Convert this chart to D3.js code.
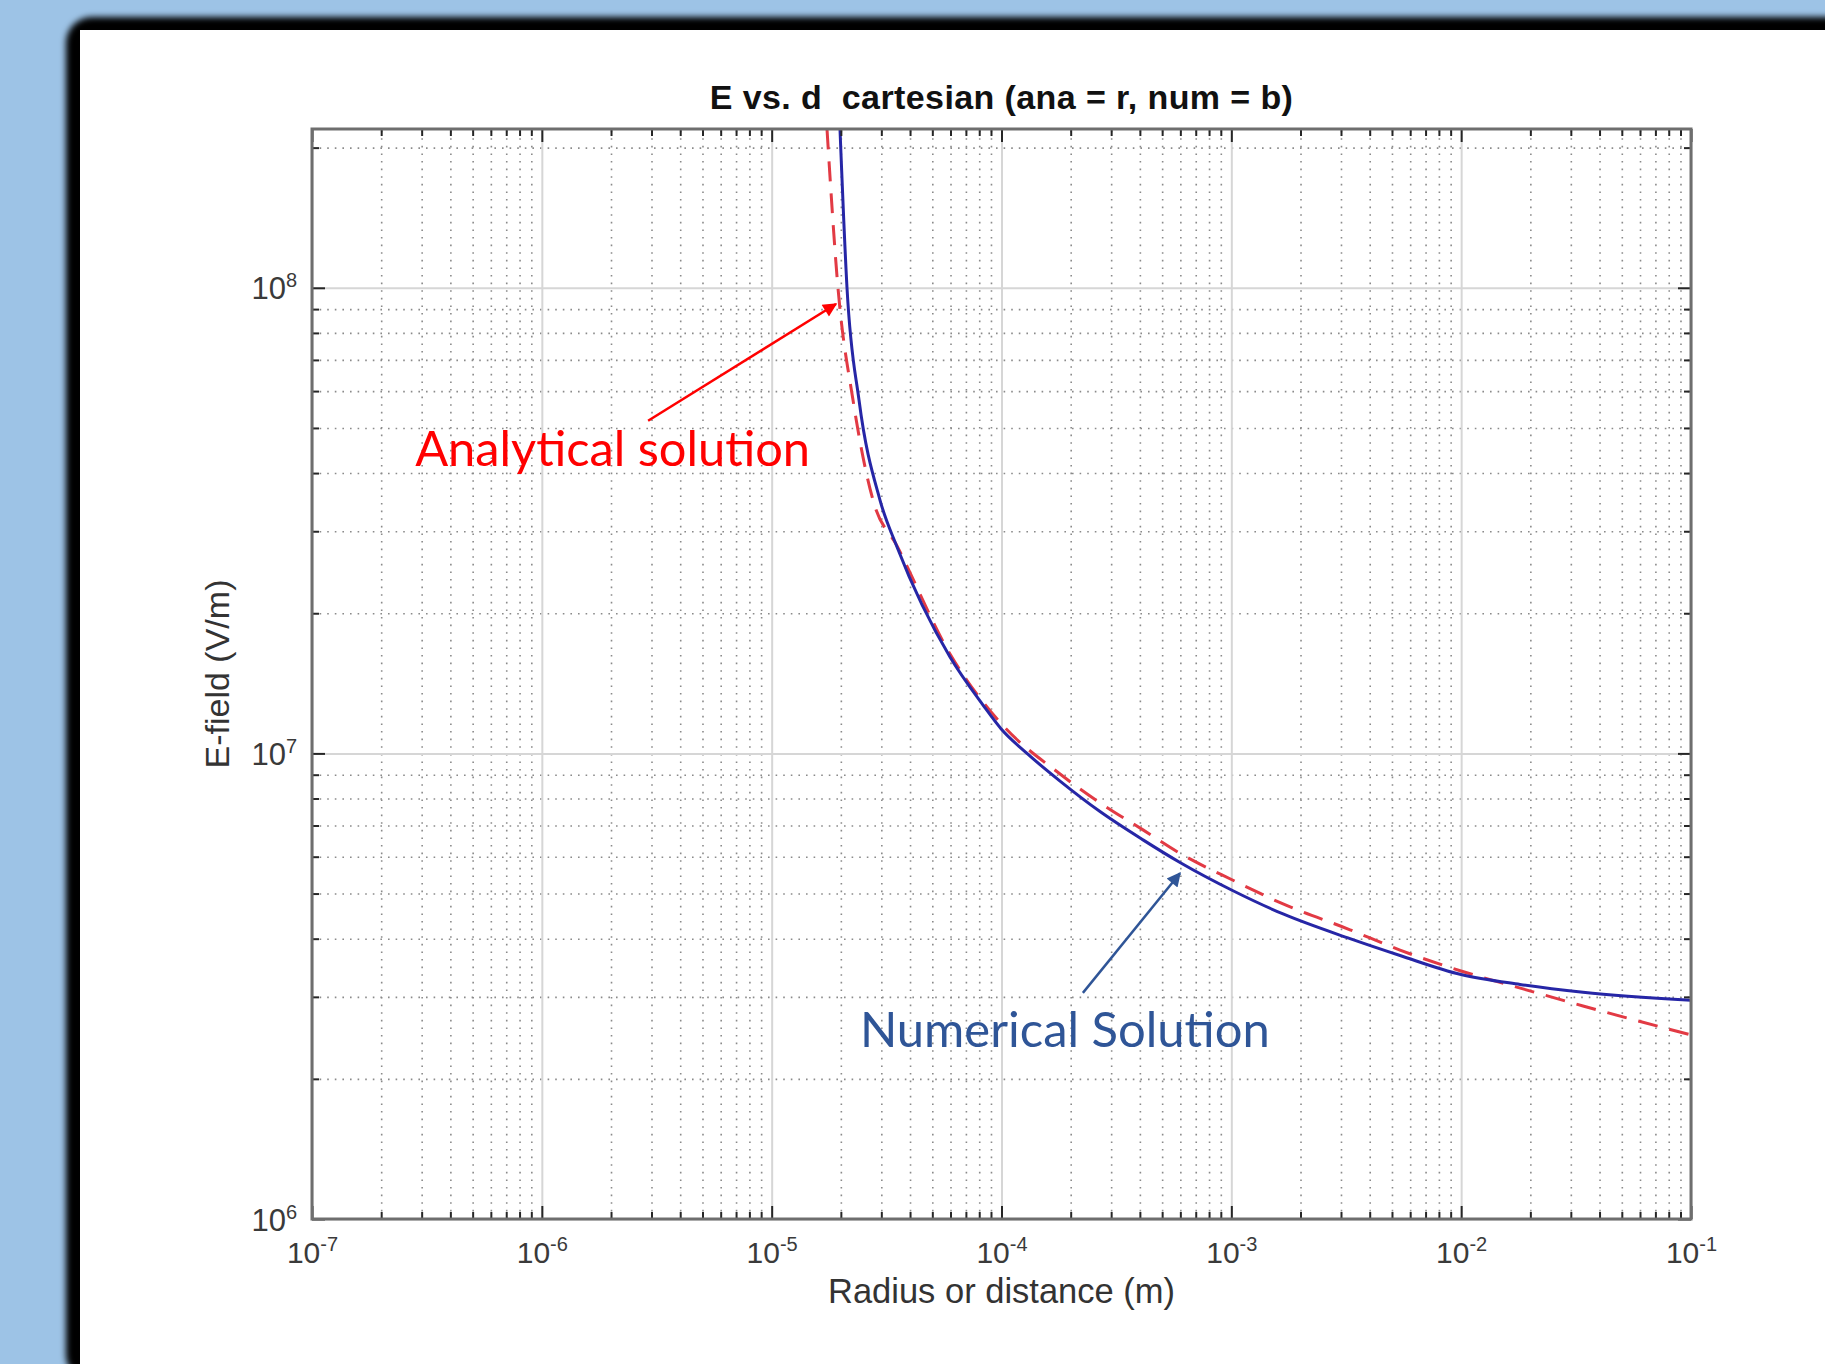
<!DOCTYPE html>
<html lang="en">
<head>
<meta charset="UTF-8" />
<title>E vs. d cartesian</title>
<style>
    body, html {
        margin: 0;
        padding: 0;
        overflow: hidden;
        background: #9dc3e6;
    }
    svg { display: block; }
    .axis text { font-family: "Liberation Sans", Arial, sans-serif; fill: #3a3a3a; }
    .note { font-family: Lato, "Open Sans", sans-serif; }
</style>
</head>
<body>
<svg id="chart" width="1825" height="1364"></svg>
<script src="https://d3js.org/d3.v7.min.js"></script>
<script>
    // tick values
    const xTicks = [1e-7, 1e-6, 1e-5, 1e-4, 1e-3, 1e-2, 1e-1];
    const xTickExp = ["-7", "-6", "-5", "-4", "-3", "-2", "-1"];
    const yTicks = [1e6, 1e7, 1e8];
    const yTickExp = ["6", "7", "8"];

    // numerical solution (blue solid)
    const numR = [1.983e-5, 2.127e-5, 2.399e-5, 2.960e-5, 3.511e-5, 5.97e-5, 8.31e-5, 9.95e-5, 1.291e-4,
                  1.798e-4, 2.683e-4, 4.128e-4, 5.98e-4, 1.017e-3, 1.679e-3, 3.284e-3, 5.42e-3, 9.98e-3,
                  1.803e-2, 3.39e-2, 1e-1];
    const numE = [2.19e8, 1.0e8, 5.74e7, 3.50e7, 2.775e7, 1.61e7, 1.27e7, 1.13e7, 1.0e7,
                  8.72e6, 7.50e6, 6.52e6, 5.83e6, 5.07e6, 4.52e6, 4.0e6, 3.68e6, 3.35e6,
                  3.19e6, 3.07e6, 2.95e6];

    // analytical solution (red dashed)
    const anaR = [1.741e-5, 1.943e-5, 2.259e-5, 2.760e-5, 3.511e-5, 5.97e-5, 9.95e-5, 1.798e-4,
                  2.683e-4, 4.128e-4, 5.98e-4, 1.017e-3, 1.679e-3, 3.284e-3, 5.42e-3, 9.98e-3,
                  1.858e-2, 3.39e-2, 1e-1];
    const anaE = [2.19e8, 1.0e8, 5.74e7, 3.50e7, 2.79e7, 1.635e7, 1.16e7, 9.03e6,
                  7.83e6, 6.85e6, 6.10e6, 5.34e6, 4.75e6, 4.18e6, 3.78e6, 3.41e6,
                  3.12e6, 2.868e6, 2.485e6];

    // annotations (in data coordinates)
    const notes = [
        { text: "Analytical solution", color: "#ff0000", at: [2.81e-7, 4.14e7], width: 395,
          from: [2.90e-6, 5.18e7], to: [1.905e-5, 9.23e7] },
        { text: "Numerical Solution", color: "#2f5597", at: [2.42e-5, 2.34e6], width: 410,
          from: [2.26e-4, 3.06e6], to: [5.98e-4, 5.53e6] }
    ];

    const W = 1825, H = 1364;
    const pL = 312, pR = 1691, pT = 129, pB = 1219;

    const svg = d3.select("#chart");
    const defs = svg.append("defs");

    defs.append("filter").attr("id", "soft")
        .attr("x", "-5%").attr("y", "-5%").attr("width", "110%").attr("height", "110%")
        .append("feGaussianBlur").attr("stdDeviation", 3);

    defs.append("clipPath").attr("id", "plotClip")
        .append("rect")
        .attr("x", pL).attr("y", pT)
        .attr("width", pR - pL).attr("height", pB - pT);

    // slide frame
    svg.append("rect")
        .attr("x", 66).attr("y", 17)
        .attr("width", W).attr("height", H)
        .attr("rx", 26)
        .attr("fill", "#000")
        .attr("filter", "url(#soft)");
    svg.append("rect")
        .attr("x", 80).attr("y", 30)
        .attr("width", W).attr("height", H)
        .attr("fill", "#fff");

    const x = d3.scaleLog().domain([1e-7, 1e-1]).range([pL, pR]);
    const y = d3.scaleLog().domain([1e6, 2.193e8]).range([pB, pT]);

    // minor values
    const xMinor = [];
    for (let d = -7; d < -1; d++) {
        for (let k = 2; k <= 9; k++) xMinor.push(k * Math.pow(10, d));
    }
    const yMinor = [];
    for (let d = 6; d <= 8; d++) {
        for (let k = 2; k <= 9; k++) {
            const v = k * Math.pow(10, d);
            if (v <= 2.193e8) yMinor.push(v);
        }
    }

    // grid
    const grid = svg.append("g");
    grid.append("g")
        .attr("transform", `translate(0,${pB})`)
        .call(d3.axisBottom(x).tickValues(xMinor).tickSize(-(pB - pT)).tickFormat(""))
        .call(g => g.select(".domain").remove())
        .selectAll("line")
        .attr("stroke", "#8a8a8a")
        .attr("stroke-width", 1.6)
        .attr("stroke-dasharray", "1.6,6");
    grid.append("g")
        .attr("transform", `translate(${pL},0)`)
        .call(d3.axisLeft(y).tickValues(yMinor).tickSize(-(pR - pL)).tickFormat(""))
        .call(g => g.select(".domain").remove())
        .selectAll("line")
        .attr("stroke", "#8a8a8a")
        .attr("stroke-width", 1.6)
        .attr("stroke-dasharray", "1.6,6");
    grid.append("g")
        .attr("transform", `translate(0,${pB})`)
        .call(d3.axisBottom(x).tickValues(xTicks).tickSize(-(pB - pT)).tickFormat(""))
        .call(g => g.select(".domain").remove())
        .selectAll("line")
        .attr("stroke", "#d6d6d6")
        .attr("stroke-width", 2);
    grid.append("g")
        .attr("transform", `translate(${pL},0)`)
        .call(d3.axisLeft(y).tickValues(yTicks).tickSize(-(pR - pL)).tickFormat(""))
        .call(g => g.select(".domain").remove())
        .selectAll("line")
        .attr("stroke", "#d6d6d6")
        .attr("stroke-width", 2);

    // curves
    const line = d3.line()
        .x(d => x(d[0]))
        .y(d => y(d[1]))
        .curve(d3.curveMonotoneX);

    const plot = svg.append("g").attr("clip-path", "url(#plotClip)");
    plot.append("path")
        .datum(anaR.map((r, i) => [r, anaE[i]]))
        .attr("d", line)
        .attr("fill", "none")
        .attr("stroke", "#e23a44")
        .attr("stroke-width", 3)
        .attr("stroke-dasharray", "20,12");
    plot.append("path")
        .datum(numR.map((r, i) => [r, numE[i]]))
        .attr("d", line)
        .attr("fill", "none")
        .attr("stroke", "#2626a6")
        .attr("stroke-width", 3);

    // ticks on all four sides (inside)
    const tickColor = "#262626";
    function ticks(axisFn, scale, vals, len, pos) {
        const a = axisFn(scale).tickValues(vals).tickSize(-len).tickFormat("");
        const g = svg.append("g").attr("transform", pos).call(a);
        g.select(".domain").remove();
        g.selectAll("line").attr("stroke", tickColor).attr("stroke-width", 2);
        return g;
    }
    ticks(d3.axisBottom, x, xMinor, 7, `translate(0,${pB})`);
    ticks(d3.axisBottom, x, xTicks, 13, `translate(0,${pB})`);
    ticks(d3.axisTop, x, xMinor, 7, `translate(0,${pT})`);
    ticks(d3.axisTop, x, xTicks, 13, `translate(0,${pT})`);
    ticks(d3.axisLeft, y, yMinor, 7, `translate(${pL},0)`);
    ticks(d3.axisLeft, y, yTicks, 13, `translate(${pL},0)`);
    ticks(d3.axisRight, y, yMinor, 7, `translate(${pR},0)`);
    ticks(d3.axisRight, y, yTicks, 13, `translate(${pR},0)`);

    // box
    svg.append("rect")
        .attr("x", pL).attr("y", pT)
        .attr("width", pR - pL).attr("height", pB - pT)
        .attr("fill", "none")
        .attr("stroke", "#6e6e6e")
        .attr("stroke-width", 3);

    // tick labels (10 with superscript)
    const xLab = svg.append("g").attr("class", "axis")
        .attr("transform", `translate(0,${pB})`)
        .call(d3.axisBottom(x).tickValues(xTicks).tickSize(0).tickPadding(23).tickFormat(""));
    xLab.select(".domain").remove();
    xLab.selectAll(".tick text").each(function (d, i) {
        const t = d3.select(this).attr("font-size", 30).attr("dy", "0.71em");
        t.append("tspan").text("10");
        t.append("tspan").attr("font-size", 20).attr("dy", "-0.6em").text(xTickExp[i]);
    });

    const yLab = svg.append("g").attr("class", "axis")
        .attr("transform", `translate(${pL},0)`)
        .call(d3.axisLeft(y).tickValues(yTicks).tickSize(0).tickPadding(15).tickFormat(""));
    yLab.select(".domain").remove();
    yLab.selectAll(".tick text").each(function (d, i) {
        const t = d3.select(this).attr("font-size", 31).attr("dy", "0.36em");
        t.append("tspan").text("10");
        t.append("tspan").attr("font-size", 20).attr("dy", "-0.6em").text(yTickExp[i]);
    });

    // title and axis labels
    svg.append("text")
        .attr("x", (pL + pR) / 2).attr("y", 109)
        .attr("text-anchor", "middle")
        .attr("font-family", "Liberation Sans, Arial, sans-serif")
        .attr("font-weight", "bold")
        .attr("font-size", 34)
        .attr("letter-spacing", 0.4)
        .attr("fill", "#111")
        .style("white-space", "pre")
        .text("E vs. d  cartesian (ana = r, num = b)");

    svg.append("text")
        .attr("x", (pL + pR) / 2).attr("y", 1303)
        .attr("text-anchor", "middle")
        .attr("font-family", "Liberation Sans, Arial, sans-serif")
        .attr("font-size", 34.5)
        .attr("fill", "#333")
        .text("Radius or distance (m)");

    svg.append("text")
        .attr("transform", `translate(229,${(pT + pB) / 2}) rotate(-90)`)
        .attr("text-anchor", "middle")
        .attr("font-family", "Liberation Sans, Arial, sans-serif")
        .attr("font-size", 34)
        .attr("fill", "#333")
        .text("E-field (V/m)");

    // annotations with arrows
    notes.forEach((n, i) => {
        const id = "arrow" + i;
        defs.append("marker")
            .attr("id", id)
            .attr("viewBox", "0 0 10 10")
            .attr("refX", 9).attr("refY", 5)
            .attr("markerWidth", 18).attr("markerHeight", 14)
            .attr("markerUnits", "userSpaceOnUse")
            .attr("orient", "auto")
            .append("path")
            .attr("d", "M0,0 L10,5 L0,10 Z")
            .attr("fill", n.color);

        svg.append("line")
            .attr("x1", x(n.from[0])).attr("y1", y(n.from[1]))
            .attr("x2", x(n.to[0])).attr("y2", y(n.to[1]))
            .attr("stroke", n.color)
            .attr("stroke-width", 2.5)
            .attr("marker-end", `url(#${id})`);

        const t = svg.append("text")
            .attr("class", "note")
            .attr("x", x(n.at[0])).attr("y", y(n.at[1]))
            .attr("font-size", 50)
            .attr("fill", n.color)
            .text(n.text);
        const w = t.node().getComputedTextLength();
        t.attr("font-size", 50 * n.width / w);
    });
</script>
</body>
</html>
